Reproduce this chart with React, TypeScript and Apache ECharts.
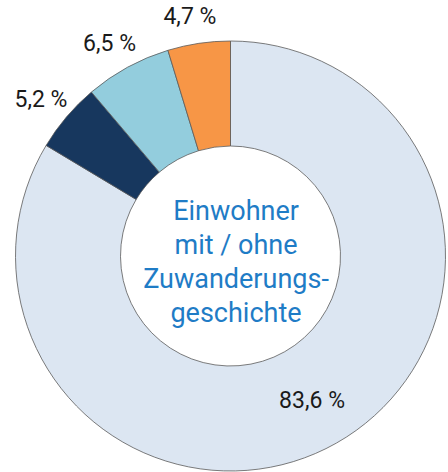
import React, { useEffect, useRef } from "react";
import * as echarts from "echarts";

const categories = ["ohne Zuwanderungsgeschichte", "Gruppe A", "Gruppe B", "Gruppe C"];
const values = [83.6, 5.2, 6.5, 4.7];
const colors = ["#dce6f2", "#17375e", "#93cddd", "#f79646"];
const centerLines = ["Einwohner", "mit / ohne", "Zuwanderungs-", "geschichte"];

export default function App() {
  const ref = useRef<HTMLDivElement>(null);
  useEffect(() => {
    document.body.style.margin = "0";
    const chart = echarts.init(ref.current!, null, { renderer: "svg" });
    chart.setOption({
      animation: false,
      backgroundColor: "#ffffff",
      graphic: [
        {
          type: "text",
          x: 236,
          y: 262,
          style: {
            text: centerLines.join("\n"),
            fill: "#1f7cc6",
            fontSize: 27,
            lineHeight: 34,
            fontFamily: "Roboto",
            align: "center",
            verticalAlign: "middle",
          },
          z: 10,
        },
      ],
      series: [
        {
          type: "pie",
          center: [230.5, 256],
          radius: [110, 215],
          startAngle: 90,
          clockwise: true,
          avoidLabelOverlap: false,
          itemStyle: { borderColor: "#5a5a5a", borderWidth: 0.8 },
          label: {
            show: true,
            position: "outside",
            formatter: (p: any) => String(p.value).replace(".", ",") + " %",
            fontSize: 23,
            fontFamily: "Roboto",
            color: "#1a1a1a",
          },
          labelLine: { show: false, length: 27, length2: 0 },
          labelLayout: () => ({ align: "center", verticalAlign: "middle" }),
          emphasis: { disabled: true },
          data: values.map((v, i) => ({
            name: categories[i],
            value: v,
            itemStyle: { color: colors[i] },
            label: i === 0 ? { position: "inside" } : undefined,
          })),
        },
      ],
    });
    return () => chart.dispose();
  }, []);
  return <div ref={ref} style={{ position: "fixed", left: 0, top: 0, width: 448, height: 472 }} />;
}
